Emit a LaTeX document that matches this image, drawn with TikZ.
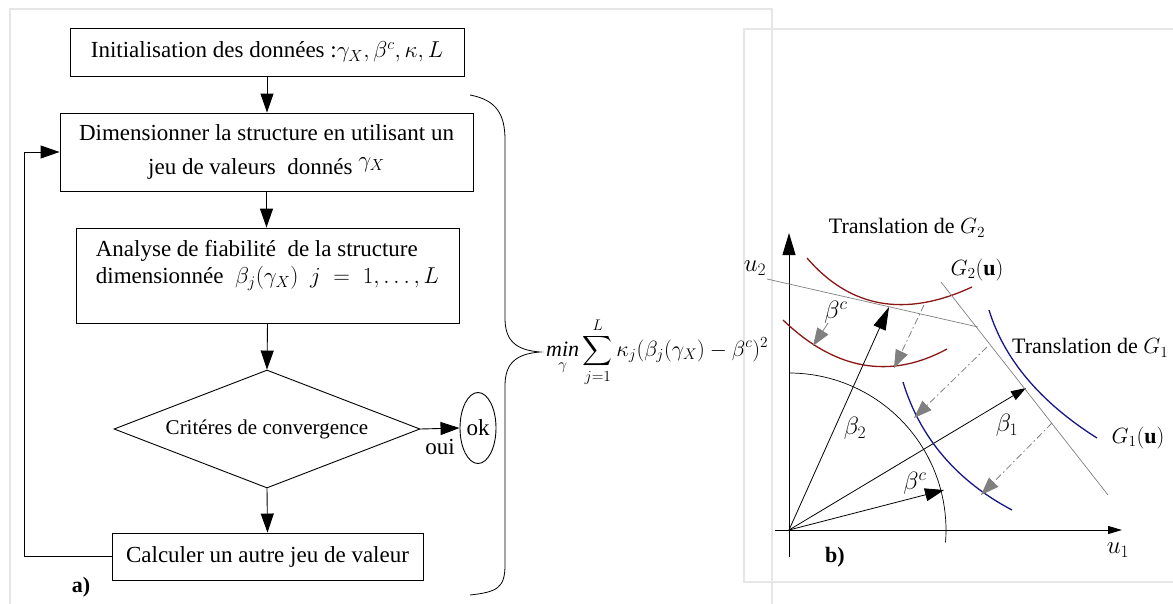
\RequirePackage{fix-cm}
\documentclass[tikz,border=0pt]{standalone}
\usepackage{fontspec}
\setmainfont{Liberation Serif}
\usepackage{amsmath}
\usepackage{xcolor}
\usetikzlibrary{arrows.meta,shapes.geometric}
\definecolor{rougeG}{RGB}{140,22,22}
\definecolor{bleuG}{RGB}{22,22,135}
\definecolor{cadre}{RGB}{230,230,230}

\begin{document}
\begin{tikzpicture}[x=1pt,y=-1pt,
  bloc/.style={draw,line width=0.9pt,inner sep=0pt,font=\fontsize{23}{27}\selectfont},
  fleche/.style={line width=0.9pt,-{Triangle[length=19pt,width=13pt]}},
  etiq/.style={inner sep=1pt,font=\fontsize{22}{26}\selectfont},
  sym/.style={inner sep=1pt,font=\fontsize{25}{28}\selectfont},
  gris/.style={gray,line width=0.8pt,-{Triangle[length=18pt,width=13pt]}},
  tiret/.style={dash pattern=on 7pt off 3pt on 1.5pt off 3pt}]
  \useasboundingbox (0,0) rectangle (1173,603);
  % cadres
  \draw[cadre,line width=1.5pt] (10,615) -- (10,9) -- (772,9) -- (772,615);
  \draw[cadre,line width=1.5pt] (744,29) rectangle (1185,582);

  % a) organigramme
  \node[bloc,minimum width=394,minimum height=48] (init) at (267,52)
    {Initialisation des données :$\gamma_X, \beta^c, \kappa, L$};
  \node[bloc,minimum width=413,minimum height=78,align=center,font=\fontsize{23}{34}\selectfont] (dim) at (266.5,152)
    {Dimensionner la structure en utilisant un\\ jeu de valeurs\ \ donnés \raisebox{7pt}{$\gamma_X$}};
  \node[bloc,minimum width=383,minimum height=95,align=left] (fiab) at (267.5,275.5)
    {Analyse de fiabilité\ \ de la structure\\ dimensionnée\ \ $\beta_j(\gamma_X)$\ \ $j\;=\;1,\ldots,L$\\ ~};
  \node[bloc,diamond,aspect=2.6,minimum width=306,minimum height=118,font=\fontsize{21}{25}\selectfont] (conv) at (267,429)
    {Critéres de convergence};
  \node[bloc,ellipse,minimum width=36,minimum height=71] (ok) at (478,428) {ok};
  \node[bloc,draw=none] (oui) at (440,447) {oui};
  \node[bloc,minimum width=311,minimum height=47] (calc) at (267.5,556.5)
    {Calculer un autre jeu de valeur};
  \node[font=\fontsize{22}{26}\selectfont\bfseries] (a) at (81,587) {a)};

  \draw[fleche] (init.south) -- (init.south |- dim.north);
  \draw[fleche] (dim.south) -- (dim.south |- fiab.north);
  \draw[fleche] (fiab.south) -- (conv.north);
  \draw[fleche] (conv.east) -- (ok.west);
  \draw[fleche] (conv.south) -- (calc.north);
  \draw[fleche] (calc.west) -- ++(-87,0) |- (dim.west);

  % accolade et critere
  \draw[line width=0.8pt] (470,95) .. controls (497,100) and (505,115) .. (505,140) -- (505,318)
    .. controls (505,340) and (515,350) .. (540,352)
    .. controls (515,354) and (505,364) .. (505,386) -- (505,565)
    .. controls (505,588) and (497,592) .. (470,595);
  \node[anchor=west,inner sep=0pt,font=\fontsize{22}{26}\selectfont] (crit) at (546,352)
    {$\displaystyle \mathop{\mathit{min}}_{\gamma}\sum_{j=1}^{L}\kappa_j(\beta_j(\gamma_X)-\beta^c)^2$};

  % b) espace standard
  \coordinate (O) at (789,530);
  \coordinate (axb) at (789,557);
  \coordinate (axh) at (789,233);
  \coordinate (axg) at (775,530);
  \coordinate (axd) at (1122,530);
  \coordinate (B2) at (889,307);
  \coordinate (B1) at (1026,388);
  \coordinate (Bc) at (944,490);
  \draw[line width=1pt,-{Triangle[length=22pt,width=13pt]}] (axb) -- (axh);
  \draw[line width=1pt,-{Triangle[length=14pt,width=8pt]}] (axg) -- (axd);
  \draw[line width=0.7pt] (789,373) arc[start angle=-90,end angle=4.5,radius=157];
  \draw[line width=0.8pt,-{Triangle[length=23pt,width=13pt]}] (O) -- (B2);
  \draw[line width=0.8pt,-{Triangle[length=15pt,width=10pt]}] (O) -- (B1);
  \draw[line width=0.8pt,-{Triangle[length=19pt,width=13pt]}] (O) -- (Bc);

  % etats limites
  \draw[rougeG,line width=1.3pt] (807,258) .. controls (850,308) and (905,318) .. (972,287);
  \draw[rougeG,line width=1.3pt] (783,320) .. controls (835,370) and (890,380) .. (947,349);
  \draw[bleuG,line width=1.3pt] (989,310) .. controls (1004,359) and (1040,402) .. (1097,438);
  \draw[bleuG,line width=1.3pt] (903,382) .. controls (920,438) and (957,481) .. (1012,510);
  \draw[gray,line width=0.7pt] (767,279) -- (978,327);
  \draw[gray,line width=0.7pt] (941,282) -- (1108,495);

  \draw[gris] (828,323) -- (813,346);
  \draw[gris,tiret] (924,305) -- (894,368);
  \draw[gris,tiret] (987,347) -- (914,418);
  \draw[gris,tiret] (1052,423) -- (981,495);

  \node[sym] (u2) at (755,268) {$u_2$};
  \node[sym] (u1) at (1118,550) {$u_1$};
  \node[sym] (lb2) at (855,428) {$\beta_2$};
  \node[sym] (lb1) at (1007,425) {$\beta_1$};
  \node[sym] (lbc) at (915,483) {$\beta^c$};
  \node[sym] (lbch) at (836,312) {$\beta^c$};
  \node[etiq] (tg2) at (907,228) {Translation de $G_2$};
  \node[etiq] (g2) at (977,270) {$G_2(\mathbf{u})$};
  \node[etiq,anchor=west] (tg1) at (1011,348) {Translation de $G_1$};
  \node[etiq] (g1) at (1138,438) {$G_1(\mathbf{u})$};
  \node[font=\fontsize{22}{26}\selectfont\bfseries] (b) at (835,557) {b)};
\end{tikzpicture}
\end{document}
